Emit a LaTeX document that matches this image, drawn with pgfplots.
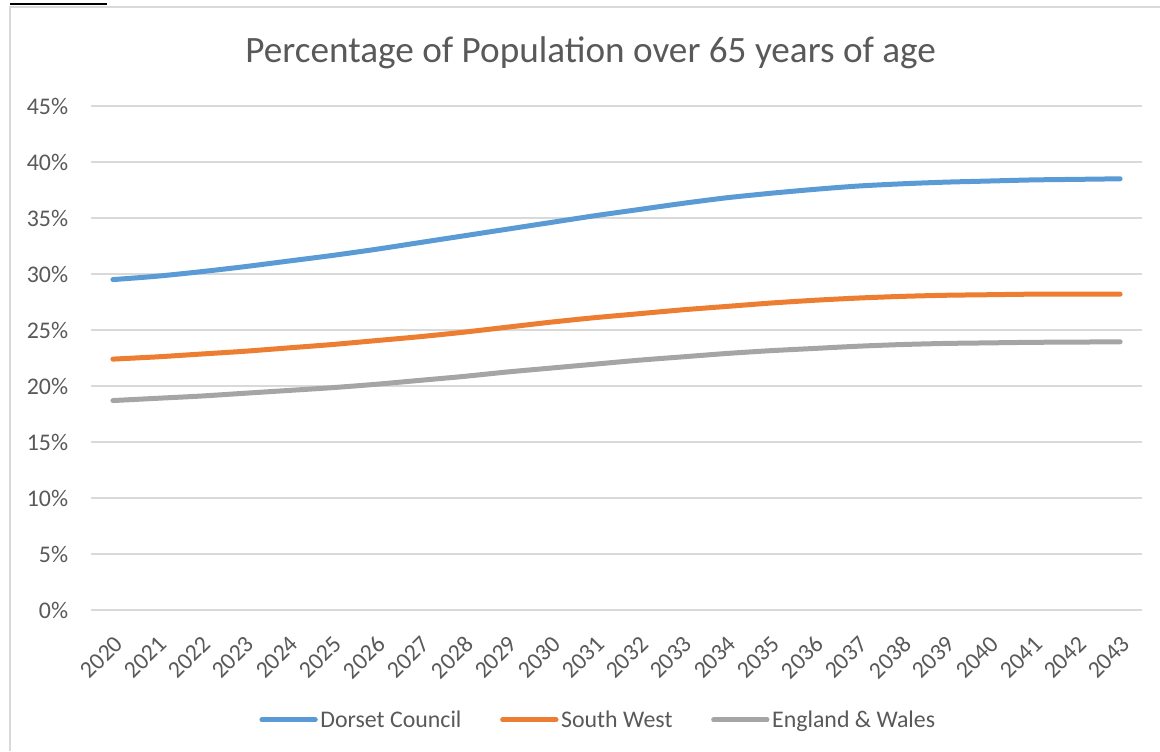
\documentclass[border=0pt]{standalone}
\usepackage{fontspec}
\setmainfont{Carlito}
\usepackage{pgfplots}
\pgfplotsset{compat=1.18}
\definecolor{cBlue}{HTML}{5B9BD5}
\definecolor{cOrange}{HTML}{ED7D31}
\definecolor{cGray}{HTML}{A5A5A5}
\definecolor{gridc}{HTML}{D9D9D9}
\definecolor{labc}{HTML}{595959}
\pgfplotstableread{
idx dorset sw ew
0  29.5  22.4  18.7
1  29.8  22.6  18.9
2  30.2  22.85 19.1
3  30.65 23.1  19.35
4  31.15 23.4  19.6
5  31.65 23.7  19.85
6  32.2  24.05 20.15
7  32.8  24.4  20.5
8  33.4  24.8  20.85
9  34.0  25.25 21.25
10 34.6  25.7  21.6
11 35.2  26.1  21.95
12 35.75 26.45 22.3
13 36.3  26.8  22.6
14 36.8  27.1  22.9
15 37.2  27.4  23.15
16 37.55 27.65 23.35
17 37.85 27.85 23.55
18 38.05 28.0  23.7
19 38.2  28.1  23.8
20 38.3  28.15 23.85
21 38.4  28.2  23.9
22 38.45 28.2  23.92
23 38.5  28.2  23.95
}\datatable
\begin{document}
\begin{tikzpicture}
\useasboundingbox (0,0) rectangle (870pt,563.25pt);
% chart frame
\draw[gridc, line width=1.2pt] (7.5pt,0pt) -- (7.5pt,558pt) -- (875pt,558pt);
% underline of the cut-off caption above the frame
\draw[black, line width=1.5pt] (7.5pt,560pt) -- (80.25pt,560pt);
% title
\node[font=\fontsize{27.9}{32}\selectfont, text=labc] at (443pt,523.5pt) {Percentage of Population over 65 years of age};
\begin{axis}[
  at={(68.25pt,105.75pt)}, anchor=south west,
  scale only axis, width=788.25pt, height=378pt,
  xmin=-0.5, xmax=23.5, ymin=0, ymax=45,
  xtick={0,...,23},
  xticklabels={2020,2021,2022,2023,2024,2025,2026,2027,2028,2029,2030,2031,2032,2033,2034,2035,2036,2037,2038,2039,2040,2041,2042,2043},
  ytick={0,5,...,45},
  yticklabel={\pgfmathprintnumber{\tick}\%},
  ymajorgrids, grid style={color=gridc, line width=1.1pt},
  axis line style={draw=none},
  major tick length=0pt,
  tick label style={font=\fontsize{17.9}{20}\selectfont, text=labc},
  /pgf/number format/assume math mode=true,
  yticklabel style={anchor=east, inner sep=0pt, xshift=-17pt},
  xticklabel style={anchor=east, inner sep=0pt, xshift=4.5pt, yshift=-22.5pt, rotate=45},
  legend columns=3,
  legend style={draw=none, fill=none, at={(0.4830,-0.218)}, anchor=center,
    font=\fontsize{17.9}{20}\selectfont, text=labc,
    /tikz/every even column/.append style={column sep=27pt}},
  legend image code/.code={\draw[#1, line cap=round] (0pt,0pt) -- (40pt,0pt);},
  clip=false,
]
\addplot[cBlue, line width=3.75pt, line cap=round, smooth, tension=0.4] table[x=idx, y=dorset] {\datatable};
\addlegendentry{Dorset Council}
\addplot[cOrange, line width=3.75pt, line cap=round, smooth, tension=0.4] table[x=idx, y=sw] {\datatable};
\addlegendentry{South West}
\addplot[cGray, line width=3.75pt, line cap=round, smooth, tension=0.4] table[x=idx, y=ew] {\datatable};
\addlegendentry{England \& Wales}
\end{axis}
\end{tikzpicture}
\end{document}
